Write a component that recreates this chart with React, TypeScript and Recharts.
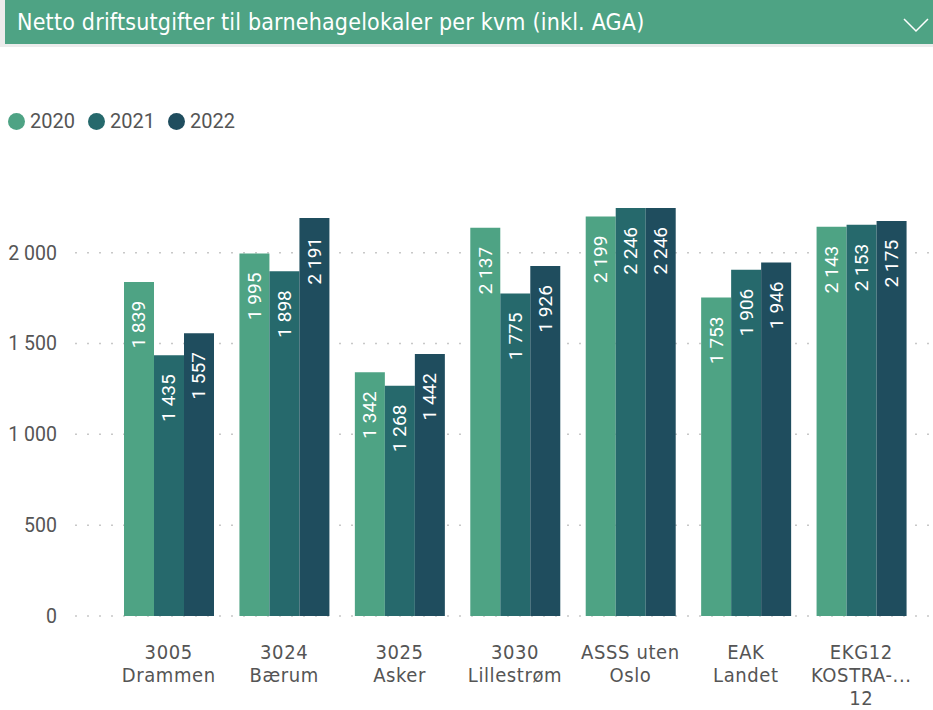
import * as React from "react"
import { BarChart, Bar, XAxis, YAxis, CartesianGrid, LabelList } from "recharts"

const categories = ["3005 Drammen", "3024 Bærum", "3025 Asker", "3030 Lillestrøm", "ASSS uten Oslo", "EAK Landet", "EKG12 KOSTRA-gruppe 12"]
const tickLines = [
    ["3005", "Drammen"],
    ["3024", "Bærum"],
    ["3025", "Asker"],
    ["3030", "Lillestrøm"],
    ["ASSS uten", "Oslo"],
    ["EAK", "Landet"],
    ["EKG12", "KOSTRA-...", "12"],
]
const years = ["2020", "2021", "2022"]
const values2020 = [1839, 1995, 1342, 2137, 2199, 1753, 2143]
const values2021 = [1435, 1898, 1268, 1775, 2246, 1906, 2153]
const values2022 = [1557, 2191, 1442, 1926, 2246, 1946, 2175]
const yTicks = [0, 500, 1000, 1500, 2000]

const colors = ["#4EA384", "#26696C", "#1F4D5E"]

const data = categories.map((name, i) => ({
    name,
    y2020: values2020[i],
    y2021: values2021[i],
    y2022: values2022[i],
}))

const fmt = (v: number) => String(v).replace(/\B(?=(\d{3})+(?!\d))/g, " ")

const tickFont = "Roboto, 'Noto Sans', sans-serif"
const catFont = "'Liberation Sans Narrow', 'DejaVu Sans Condensed', sans-serif"

function ValueLabel(props: any) {
    const { x, y, width, value } = props
    const cx = x + width / 2
    const cy = y + 19
    return (
        <text
            x={cx}
            y={cy}
            transform={`rotate(-90, ${cx}, ${cy})`}
            textAnchor="end"
            dominantBaseline="central"
            fill="#ffffff"
            fontSize={19}
            fontFamily={tickFont}
        >
            {fmt(value)}
        </text>
    )
}

function CategoryTick(props: any) {
    const { x, y, index } = props
    const lines = tickLines[index] || []
    return (
        <g>
            {lines.map((l: string, k: number) => (
                <text
                    key={k}
                    x={x}
                    y={y + 35 + k * 23}
                    textAnchor="middle"
                    fill="#555555"
                    fontSize={20}
                    letterSpacing={0.6}
                    fontFamily={catFont}
                >
                    {l}
                </text>
            ))}
        </g>
    )
}

export default function App() {
    return (
        <div style={{ position: "fixed", left: 0, top: 0, width: 933, height: 710, background: "#ffffff", overflow: "hidden" }}>
            <div style={{ position: "absolute", left: 0, top: 0, width: 933, height: 47, background: "#ECECEC" }} />
            <div
                style={{
                    position: "absolute",
                    left: 5,
                    top: 0,
                    width: 928,
                    height: 44,
                    background: "#4EA384",
                    color: "#ffffff",
                    fontFamily: catFont,
                    fontSize: 23,
                    letterSpacing: 0.2,
                    lineHeight: "44px",
                    paddingLeft: 12,
                    boxSizing: "border-box",
                }}
            >
                Netto driftsutgifter til barnehagelokaler per kvm (inkl. AGA)
                <svg width={28} height={16} style={{ position: "absolute", right: 3, top: 17 }}>
                    <polyline points="2,2 14,14 26,2" fill="none" stroke="#ffffff" strokeWidth={1.5} />
                </svg>
            </div>
            <div style={{ position: "absolute", left: 8, top: 109, display: "flex", alignItems: "center", fontFamily: tickFont, fontSize: 20, color: "#555555" }}>
                {years.map((yr, i) => (
                    <div key={yr} style={{ display: "flex", alignItems: "center", marginRight: 13 }}>
                        <span style={{ width: 17, height: 17, borderRadius: "50%", background: colors[i], display: "inline-block", marginRight: 5 }} />
                        <span>{yr}</span>
                    </div>
                ))}
            </div>
            <div style={{ position: "absolute", left: 0, top: 0 }}>
                <BarChart
                    width={933}
                    height={710}
                    data={data}
                    margin={{ top: 180, right: 3, bottom: 0, left: 0 }}
                    barCategoryGap={13}
                    barGap={0}
                >
                    <CartesianGrid vertical={false} horizontalValues={yTicks} stroke="#C8C8C8" strokeDasharray="2 10" strokeWidth={1.5} />
                    <XAxis
                        dataKey="name"
                        axisLine={false}
                        tickLine={false}
                        height={94}
                        interval={0}
                        padding={{ left: 36, right: 11 }}
                        tick={<CategoryTick />}
                    />
                    <YAxis
                        width={75}
                        domain={[0, 2400]}
                        ticks={yTicks}
                        axisLine={false}
                        tickLine={false}
                        tickMargin={12}
                        tickFormatter={fmt}
                        tick={{ fontSize: 19.5, fill: "#555555", fontFamily: tickFont }}
                    />
                    <Bar dataKey="y2020" fill={colors[0]} isAnimationActive={false}>
                        <LabelList dataKey="y2020" content={<ValueLabel />} />
                    </Bar>
                    <Bar dataKey="y2021" fill={colors[1]} isAnimationActive={false}>
                        <LabelList dataKey="y2021" content={<ValueLabel />} />
                    </Bar>
                    <Bar dataKey="y2022" fill={colors[2]} isAnimationActive={false}>
                        <LabelList dataKey="y2022" content={<ValueLabel />} />
                    </Bar>
                </BarChart>
            </div>
        </div>
    )
}
